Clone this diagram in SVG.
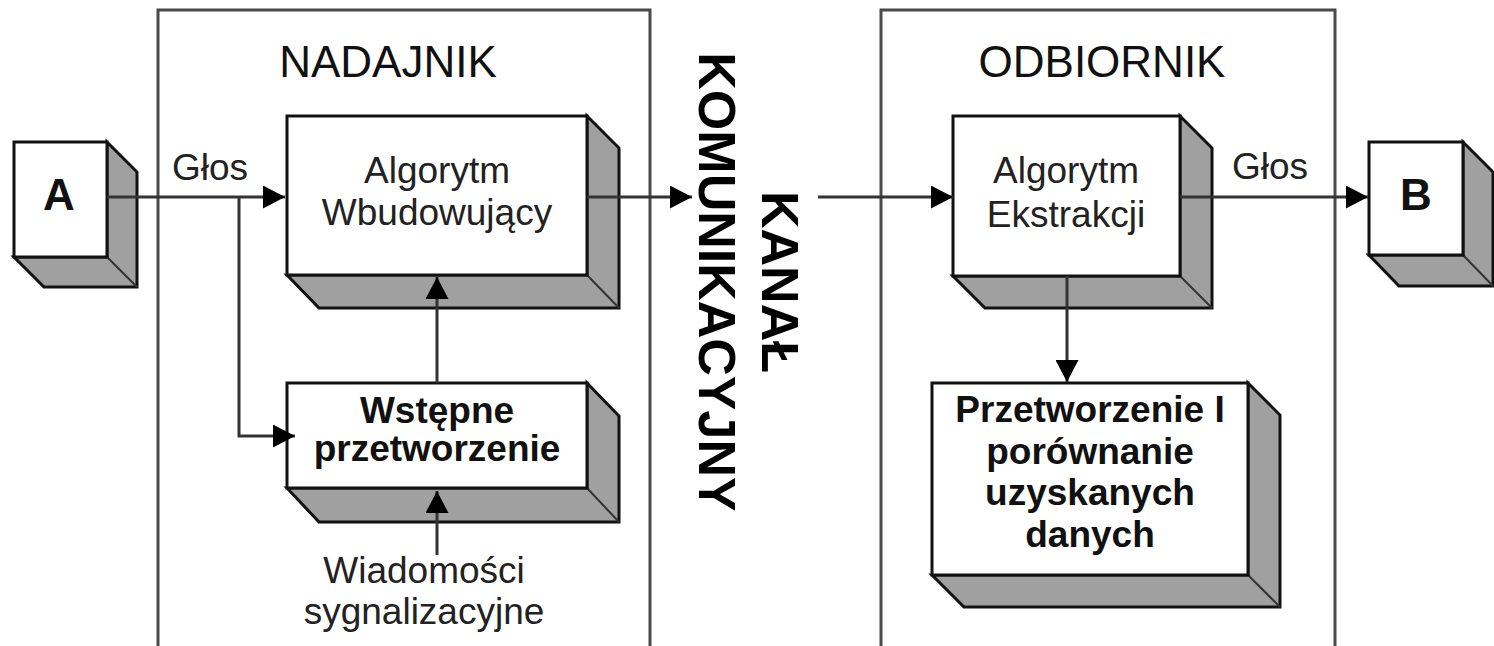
<svg xmlns="http://www.w3.org/2000/svg" width="1494" height="646" viewBox="0 0 1494 646">
<style>
.frame{fill:none;stroke:#4a4a4a;stroke-width:3}
.face{fill:#fff;stroke:#111;stroke-width:3}
.shadow{fill:#a0a0a0;stroke:#111;stroke-width:3;stroke-linejoin:miter}
.edge{stroke:#333;stroke-width:2}
.conn{fill:none;stroke:#333;stroke-width:3}
.t{font-family:"Liberation Sans",Arial,sans-serif;font-size:37px;fill:#222;text-anchor:middle}
.b{font-weight:bold;fill:#111}
.title{font-family:"Liberation Sans",Arial,sans-serif;font-size:44px;fill:#111;text-anchor:middle}
.chan{font-family:"Liberation Sans",Arial,sans-serif;font-size:52px;font-weight:bold;fill:#000;text-anchor:middle}
</style>
<defs>
<marker id="ah" viewBox="0 0 22 23" refX="22" refY="11.5" markerWidth="22" markerHeight="23" markerUnits="userSpaceOnUse" orient="auto">
<path d="M0,0 L22,11.5 L0,23 Z" fill="#000"/>
</marker>
</defs>
<rect width="1494" height="646" fill="#fff"/>

<g id="nadajnik">
<path class="frame" d="M158,646 V10 H650 V646"/>
<text class="title" x="388" y="77">NADAJNIK</text>
</g>
<g id="odbiornik">
<path class="frame" d="M881,646 V10 H1335 V646"/>
<text class="title" x="1102" y="77">ODBIORNIK</text>
</g>

<g id="kanal">
<g transform="translate(780,282) rotate(90)">
<text class="chan" x="0" y="18">KANAŁ</text>
<text class="chan" x="0" y="81">KOMUNIKACYJNY</text>
</g>
</g>

<g id="nodeA">
<polygon class="shadow" points="107,142 137,172 137,287 44,287 14,257 107,257"/>
<line class="edge" x1="107" y1="257" x2="137" y2="287"/>
<rect class="face" x="14" y="142" width="93" height="115"/>
<text class="t b" x="59" y="210" style="font-size:44px">A</text>
</g>

<g id="nodeB">
<polygon class="shadow" points="1463,142 1493,172 1493,286 1399,286 1369,255 1463,255"/>
<line class="edge" x1="1463" y1="255" x2="1493" y2="286"/>
<rect class="face" x="1369" y="142" width="94" height="113"/>
<text class="t b" x="1416" y="210" style="font-size:44px">B</text>
</g>

<g id="wbudowujacy">
<polygon class="shadow" points="587,116 619,148 619,308 319,308 287,275 587,275"/>
<line class="edge" x1="587" y1="275" x2="619" y2="308"/>
<rect class="face" x="287" y="116" width="300" height="159"/>
<text class="t" x="437" y="183">Algorytm</text>
<text class="t" x="437" y="225">Wbudowujący</text>
</g>

<g id="wstepne">
<polygon class="shadow" points="587,383 619,416 619,522 319,522 287,488 587,488"/>
<line class="edge" x1="587" y1="488" x2="619" y2="522"/>
<rect class="face" x="287" y="383" width="300" height="105"/>
<text class="t b" x="437" y="423">Wstępne</text>
<text class="t b" x="437" y="461">przetworzenie</text>
</g>

<g id="ekstrakcji">
<polygon class="shadow" points="1180,116 1212,148 1212,308 985,308 953,276 1180,276"/>
<line class="edge" x1="1180" y1="276" x2="1212" y2="308"/>
<rect class="face" x="953" y="116" width="227" height="160"/>
<text class="t" x="1066" y="183">Algorytm</text>
<text class="t" x="1066" y="227">Ekstrakcji</text>
</g>

<g id="przetworzenie">
<polygon class="shadow" points="1248,383 1280,415 1280,607 964,607 932,575 1248,575"/>
<line class="edge" x1="1248" y1="575" x2="1280" y2="607"/>
<rect class="face" x="932" y="383" width="316" height="192"/>
<text class="t b" x="1090" y="422">Przetworzenie I</text>
<text class="t b" x="1090" y="464">porównanie</text>
<text class="t b" x="1090" y="505">uzyskanych</text>
<text class="t b" x="1090" y="547">danych</text>
</g>

<g id="labels">
<text class="t" x="210" y="180">Głos</text>
<text class="t" x="1270" y="179">Głos</text>
<text class="t" x="424" y="583">Wiadomości</text>
<text class="t" x="424" y="624">sygnalizacyjne</text>
</g>

<g id="connectors">
<path class="conn" d="M107,197 H285" marker-end="url(#ah)"/>
<path class="conn" d="M239,197 V436 H295" marker-end="url(#ah)"/>
<path class="conn" d="M437,383 V277" marker-end="url(#ah)"/>
<path class="conn" d="M437,555 V491" marker-end="url(#ah)"/>
<path class="conn" d="M587,197 H692" marker-end="url(#ah)"/>
<path class="conn" d="M818,197 H953" marker-end="url(#ah)"/>
<path class="conn" d="M1067,276 V382" marker-end="url(#ah)"/>
<path class="conn" d="M1180,197 H1368" marker-end="url(#ah)"/>
</g>
</svg>
